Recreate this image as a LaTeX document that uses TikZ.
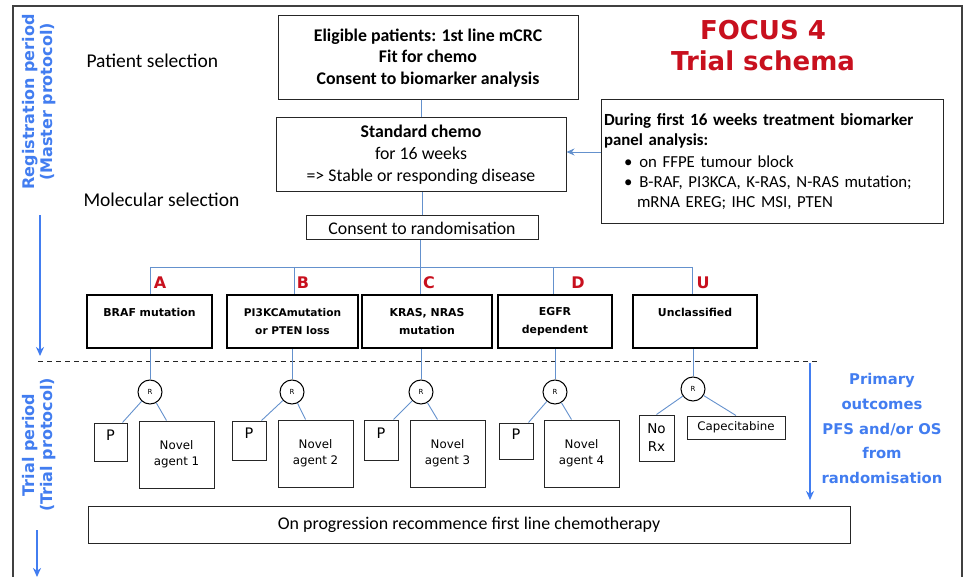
\documentclass[tikz,border=0pt]{standalone}
\usepackage{fontspec}
\setmainfont{Carlito}
\newfontfamily\vfont{DejaVu Sans}
\usetikzlibrary{arrows.meta}
\definecolor{linkblue}{RGB}{100,145,205}
\definecolor{sideblue}{RGB}{66,125,240}
\definecolor{focusred}{RGB}{200,16,30}
\tikzset{plainbox/.style={draw=black!85, line width=1pt, inner sep=0pt, align=center}}
\tikzset{groupbox/.style={draw, line width=2.6pt, inner sep=0pt, align=center, minimum height=53pt, font=\vfont\bfseries\fontsize{10.9}{18}\selectfont}}
\tikzset{armbox/.style={draw=black!85, line width=1pt, inner sep=0pt, align=center, font=\vfont\fontsize{11.8}{16}\selectfont}}
\tikzset{pbox/.style={armbox, font=\vfont\fontsize{14.5}{18}\selectfont}}
\tikzset{rnode/.style={circle, draw, line width=1pt, minimum size=24pt, inner sep=0pt, font=\vfont\fontsize{7}{8}\selectfont}}
\tikzset{link/.style={draw=linkblue, line width=0.9pt}}
\tikzset{period/.style={text=sideblue, rotate=90, align=center, font=\vfont\bfseries\fontsize{16}{18}\selectfont}}
\tikzset{armlabel/.style={text=focusred, font=\vfont\bfseries\fontsize{16}{18}\selectfont}}
\tikzset{sidearrow/.style={draw=sideblue, line width=1.6pt, -{Stealth[length=9pt,width=8pt]}}}
\begin{document}
\begin{tikzpicture}[x=1pt, y=-1pt]
\useasboundingbox (0,0) rectangle (967,577);
\draw[black!75, line width=1.4pt] (13,577) -- (13,6) -- (962,6) -- (962,577);
\draw (763,46) node[text=focusred, align=center, font=\vfont\bfseries\fontsize{26}{31}\selectfont] (title) {FOCUS 4\\Trial schema};
\draw (83,61) node[anchor=west, font=\fontsize{19.5}{20}\selectfont] (patsel) {Patient selection};
\draw (80,200) node[anchor=west, font=\fontsize{19.5}{20}\selectfont] (molsel) {Molecular selection};
\draw (39,102) node[period] (regp) {Registration period\\(Master protocol)};
\draw (39,445) node[period] (trialp) {Trial period\\(Trial protocol)};
\draw (882,428.5) node[text=sideblue, align=center, font=\vfont\bfseries\fontsize{14.8}{24.7}\selectfont] (outc) {Primary\\outcomes\\PFS and/or OS\\from\\randomisation};
\draw (428,58) node[plainbox, minimum width=300pt, minimum height=84pt, font=\bfseries\fontsize{17.8}{21.5}\selectfont] (elig) {Eligible patients: 1st line mCRC\\Fit for chemo\\Consent to biomarker analysis};
\draw (421,155) node[plainbox, minimum width=290pt, minimum height=74pt, font=\fontsize{17.8}{22}\selectfont] (chemo) {\textbf{Standard chemo}\\for 16 weeks\\=> Stable or responding disease};
\draw (422,228) node[plainbox, minimum width=232pt, minimum height=24pt, font=\fontsize{17.8}{18}\selectfont] (consent) {Consent to randomisation};
\draw (772,162) node[plainbox, minimum width=342pt, minimum height=124pt, text width=336pt, align=left, font=\fontsize{16.8}{20}\selectfont] (bio) {\textbf{\fontsize{17}{20}\selectfont During first 16 weeks treatment biomarker}\\\textbf{panel analysis:}\\[2pt]
\hspace*{20pt}\textbullet\hspace{7pt}on FFPE tumour block\\
\hspace*{20pt}\textbullet\hspace{7pt}B-RAF, PI3KCA, K-RAS, N-RAS mutation;\\
\hspace*{33pt}mRNA EREG; IHC MSI, PTEN};
\draw (149.5,321.5) node[groupbox, minimum width=125pt] (braf) {BRAF mutation\\\mbox{}};
\draw (292.5,321.5) node[groupbox, minimum width=131pt, font=\vfont\bfseries\fontsize{10.6}{18}\selectfont] (pik) {PI3KCAmutation\\or PTEN loss};
\draw (427,321.5) node[groupbox, minimum width=130pt] (kras) {KRAS, NRAS\\mutation};
\draw (555,321.5) node[groupbox, minimum width=114pt] (egfr) {EGFR\\dependent};
\draw (695,321.5) node[groupbox, minimum width=124pt] (uncl) {Unclassified\\\mbox{}};
\draw (160,283) node[armlabel] (labA) {A};
\draw (303,283) node[armlabel] (labB) {B};
\draw (429,283) node[armlabel] (labC) {C};
\draw (578,283) node[armlabel] (labD) {D};
\draw (703,283) node[armlabel] (labU) {U};
\coordinate (jA) at (150,267);
\coordinate (jB) at (294,267);
\coordinate (jC) at (420,267);
\coordinate (jD) at (553,267);
\coordinate (jU) at (692,267);
\draw[link] (chemo.north) -- (chemo.north |- elig.south);
\draw[link] (consent.north) -- (consent.north |- chemo.south);
\draw[link] (consent.south -| jC) -- (jC);
\draw[link] (jA) -- (jU);
\draw[link] (jA) -- (jA |- braf.north);
\draw[link] (jB) -- (jB |- pik.north);
\draw[link] (jC) -- (jC |- kras.north);
\draw[link] (jD) -- (jD |- egfr.north);
\draw[link] (jU) -- (jU |- uncl.north);
\coordinate (bioin) at ([yshift=10pt]bio.west);
\draw[link, -{Stealth[length=8pt,width=7pt]}] (bioin) -- (bioin -| chemo.east);
\draw[black!85, line width=1pt, dash pattern=on 5pt off 4pt] (38,362) -- (817,362);
\draw (150,392) node[rnode] (r1) {R};
\draw (292,392) node[rnode] (r2) {R};
\draw (421,392) node[rnode] (r3) {R};
\draw (555,392) node[rnode] (r4) {R};
\draw (693,389) node[rnode] (r5) {R};
\draw[link] (braf.south -| r1) -- (r1);
\draw[link] (pik.south -| r2) -- (r2);
\draw[link] (kras.south -| r3) -- (r3);
\draw[link] (egfr.south -| r4) -- (r4);
\draw[link] (uncl.south -| r5) -- (r5);
\draw (110.5,442) node[pbox, minimum width=33pt, minimum height=38pt] (p1) {P\\[-4pt]\mbox{}};
\draw (176.5,454.5) node[armbox, minimum width=75pt, minimum height=67pt] (n1) {Novel\\agent 1};
\draw (249,440.5) node[pbox, minimum width=34pt, minimum height=39pt] (p2) {P\\[-4pt]\mbox{}};
\draw (315.5,453.5) node[armbox, minimum width=75pt, minimum height=67pt] (n2) {Novel\\agent 2};
\draw (381,440) node[pbox, minimum width=34pt, minimum height=40pt] (p3) {P\\[-4pt]\mbox{}};
\draw (447.5,453.5) node[armbox, minimum width=75pt, minimum height=67pt] (n3) {Novel\\agent 3};
\draw (516,441) node[pbox, minimum width=34pt, minimum height=36pt] (p4) {P\\[-4pt]\mbox{}};
\draw (581.5,453.5) node[armbox, minimum width=75pt, minimum height=67pt] (n4) {Novel\\agent 4};
\draw (656.5,438) node[armbox, minimum width=35pt, minimum height=46pt, font=\vfont\fontsize{13.5}{18}\selectfont] (norx) {No\\Rx};
\draw (736,427.5) node[armbox, minimum width=98pt, minimum height=23pt] (cape) {Capecitabine};
\draw[link] (r1) -- ([xshift=-5pt]p1.north east);
\draw[link] (r1) -- ([xshift=28pt]n1.north west);
\draw[link] (r2) -- ([xshift=-5pt]p2.north east);
\draw[link] (r2) -- ([xshift=28pt]n2.north west);
\draw[link] (r3) -- ([xshift=-5pt]p3.north east);
\draw[link] (r3) -- ([xshift=28pt]n3.north west);
\draw[link] (r4) -- ([xshift=-5pt]p4.north east);
\draw[link] (r4) -- ([xshift=28pt]n4.north west);
\draw[link] (r5) -- (norx.north);
\draw[link] (r5) -- (cape.north);
\draw (469,524.5) node[plainbox, minimum width=762pt, minimum height=37pt, font=\fontsize{17.9}{18}\selectfont] (recom) {On progression recommence first line chemotherapy};
\coordinate (regtop) at (40,215);
\coordinate (regend) at (40,356);
\coordinate (trialtop) at (37,530);
\coordinate (trialend) at (37,577);
\coordinate (outtop) at (810,363);
\coordinate (outend) at (810,500);
\draw[sidearrow] (regtop) -- (regend);
\draw[sidearrow] (trialtop) -- (trialend);
\draw[sidearrow] (outtop) -- (outend);
\end{tikzpicture}
\end{document}
